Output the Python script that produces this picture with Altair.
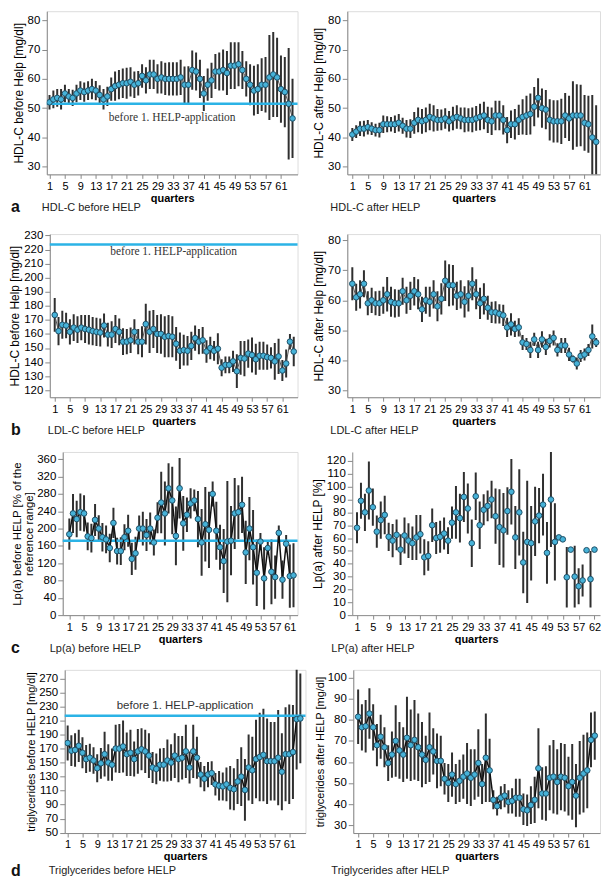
import altair as alt
import pandas as pd

FONT = "Liberation Sans"

# ---------------- data ----------------
hdl_before_mean = [52, 53, 53.5, 53, 55, 54, 53.5, 55, 56, 55.5, 56, 56.5, 56, 54.5, 53, 54,
                   56.5, 57.5, 58, 58.5, 58.5, 59, 58, 58.5,
                   61, 59.5, 61.5, 61.5, 60, 60.5, 60, 60, 60, 60, 60.5,
                   58, 58, 63, 62.5, 60,
                   55, 58, 59.5, 62.5, 62.5, 63, 62, 64.5, 64.5, 65, 63, 60, 58, 56, 56.5, 58,
                   58, 60.5, 61.5, 60.5, 56.5, 55.5, 51.5, 46.5]
hdl_before_sd = [2.5, 3, 3, 3.5, 3, 2.5, 2.8, 3, 3.2, 3.3, 3.2, 3.5, 3.3, 3.3, 3.5, 3.3,
                 4, 5, 5, 5, 5.3, 5, 4.5, 4.2,
                 4, 4.5, 5, 5, 5, 5.5, 5.5, 5.7, 5.7, 5.7, 6,
                 6.2, 6.3, 6.7, 6.5, 6.5,
                 6, 5.5, 6, 6, 6.5, 7, 7.5, 8, 8, 7.5, 6.5, 6, 7, 8.5, 8.5, 9,
                 9.5, 14.5, 14.5, 13.5, 11.5, 12, 19, 13.5]

hdl_after_mean = [41, 42, 43, 43, 43.5, 43, 42.5, 42.5, 44.5, 44.5, 44.5, 44.5, 45, 44, 43, 43,
                  45, 46, 45.5, 46, 47, 46.5, 46, 46, 46.5, 45.5, 46.5, 47, 46.5, 46, 46, 46,
                  46.5, 47, 47.5, 46, 45.5, 47.5, 47.5, 46,
                  42.5, 44.5, 44.5, 46, 47, 47.5, 48, 50.5, 53.5, 50, 49.5, 46, 45.5, 45.5, 45.5, 47.5,
                  46.5, 47.5, 47.5, 47.5, 45, 44.5, 40, 38.5]
hdl_after_sd = [2.2, 2.2, 2.5, 2.7, 2.5, 2.2, 2.2, 2.5, 3, 2.7, 2.5, 3, 3, 2.7, 3, 3.2,
                3.7, 4.2, 4.2, 4.2, 4.5, 4.5, 3.7, 3.5, 3.5, 3.5, 4, 4, 3.7, 4.2, 4, 4.2,
                4.2, 4.5, 4.7, 4.5, 4.7, 5, 5, 5,
                4.5, 4.7, 5.2, 5.2, 6, 6.7, 7, 6.7, 6.7, 6.7, 6.7, 7, 7.2, 7.2, 7.7, 7.7,
                7.7, 11.7, 10.7, 10.5, 9.5, 9.7, 14.5, 12.5]

ldl_before_mean = [173.5, 162, 166.5, 166, 161.5, 164.5, 163, 164.5, 163.5, 163, 162, 161.5, 161,
                   166, 159.5, 159.5, 163.5, 161.5, 154.5, 154.5, 155.5, 161.5, 154.5, 154.5,
                   167, 161.5, 163.5, 160, 160, 158, 158.5, 158,
                   153, 148, 148.5, 148, 151.5, 157, 154.5, 155.5,
                   147.5, 150, 148, 149.5, 136, 138, 138, 140.5, 133.5, 143, 142.5, 146, 145, 142,
                   144.5, 144.5, 143.5, 143, 140.5, 144, 134, 139, 154.5, 147.5]
ldl_before_sd = [12, 10, 10, 9, 9, 9.5, 9.5, 9, 10, 10.5,
                 10, 10, 10, 8.5, 8.5, 9.5, 10, 9.5, 9.5, 9,
                 9, 9, 9, 11, 14.5, 15, 13.5, 13.5, 14, 14.5,
                 15, 14.5, 12, 13, 11, 10.5, 10, 9, 9, 9.5,
                 8, 8, 7, 11, 6, 6, 6, 7.5, 12, 12,
                 12.5, 10, 12.5, 11, 10, 10, 9, 7.5, 13, 12.5,
                 7.5, 10, 5.5, 10.5]

ldl_after_mean = [65.5, 61, 62, 65.5, 59, 60, 59, 59, 60, 62, 59.5, 59, 59, 63, 60, 61.5, 63, 62,
                  57, 60, 59.5, 62, 58, 60.5,
                  66.5, 65, 65, 61.5, 62, 59.5, 61.5, 65.5, 62, 59, 60.5, 57.5, 56, 56, 55.5, 55,
                  51, 52, 50.5, 51, 46, 45.5, 43.5, 47, 43.5, 47, 44.5, 46.5, 47.5, 43.5, 45, 45,
                  42, 40.5, 39, 41.5, 42, 43.5, 48, 46]
ldl_after_sd = [5.5, 4.5, 4.7, 4.5, 4, 4.2, 4, 4.2, 4.5, 5.7,
                5, 4.7, 4.5, 4.5, 4.5, 4.7, 4.7, 5, 4.2, 4.5,
                5, 4.7, 5, 5.2, 6.7, 7, 6.7, 4.7, 4.7, 5.2,
                5.2, 5.5, 5, 5.2, 5.2, 4, 3.5, 3.7, 3.2, 3.5,
                3.2, 3.7, 2.7, 3, 2.5, 2, 2.7, 2.2, 2.7, 2.7,
                2.7, 2.2, 2.5, 2.2, 2.5, 2.5, 2.2, 1.2, 2, 2,
                2, 2, 4, 1.5]

lpa_before_mean = [187, 235, 222, 238, 235, 182, 178, 220, 200, 180, 175, 155, 213, 148, 148, 180,
                   195, 130, 143, 200, 200, 185, 200, 168,
                   225, 260, 235, 293, 265, 183, 293, 212, 232, 258,
                   265, 222, 168, 210, 197, 280, 195, 157, 125, 170,
                   172, 235, 238, 255, 145, 200, 157, 98, 170, 85,
                   155, 100, 88, 190, 82, 165, 90, 92]
lpa_before_sd = [36, 45, 42, 43, 42, 32, 33, 37, 31, 33,
                 32, 33, 35, 31, 32, 30, 37, 37, 38, 30,
                 39, 37, 37, 30, 36, 71, 74, 58, 78, 68,
                 70, 63, 40, 35, 25, 65, 77, 86, 88, 29,
                 67, 52, 74, 140, 80, 82, 62, 65, 73, 73,
                 86, 77, 20, 72, 15, 75, 50, 17, 44, 20,
                 73, 74]

lpa_after_mean = [68, 89, 80, 97, 84, 65, 74, 78, 61, 58, 62.5, 51, 62, 58, 56, 60.5, 63, 45, 46, 70,
                  60, 61, 63.5, 58,
                  72, 80, 75.5, 92, 83, 56, 92.5, 70, 82, 85,
                  90, 77, 68.5, 66, 81, 96, 60.5, 80, 41, 57,
                  56, 73, 77.5, 86, 48.5, 90, 57, 60.5, 59, 29.5,
                  51, 30, 22.5, 27, 50.5, 28, 51]
lpa_after_sd = [12, 14, 14.5, 22.5, 14.5, 12.5, 14.5, 15, 11, 13,
                12, 12, 14, 13.5, 13, 17.5, 15, 14, 11.5, 13,
                12.5, 12.5, 12.5, 10.5, 12.5, 20.5, 19, 19.5, 19.5, 18.5,
                18.5, 18.5, 12, 12, 14.5, 21.5, 29.5, 29, 18.5, 25.5,
                24.5, 33.5, 24, 47.5, 29, 27, 21.5, 24, 24, 37,
                30, 0, 0, 23.5, 0, 24, 14, 12.5, 0, 22,
                0]

tg_before_mean = [178, 167, 168, 174, 164, 155, 157, 153, 142, 149, 162, 150, 147, 170, 170, 173,
                  162, 164, 155, 166, 169, 166, 160, 143,
                  141, 147, 147, 153, 150, 160, 155, 157, 166, 143, 166, 157, 133, 127, 133, 135,
                  119, 117, 116, 119, 114, 112, 123, 130, 111, 143, 139, 155, 158, 161, 152, 152,
                  152, 157, 137, 162, 162, 165, 212, 213]
tg_before_sd = [25, 22, 24, 23, 22, 20, 20, 19, 20, 22,
                32, 26, 23, 34, 35, 37, 31, 33, 25, 32,
                30, 31, 32, 22, 22, 23, 24, 30, 26, 32,
                33, 31, 38, 23, 38, 30, 18, 18, 18, 17,
                16, 21, 20, 24, 31, 30, 32, 42, 44, 47,
                48, 56, 63, 66, 61, 56, 56, 68, 55, 67,
                71, 67, 72, 64]

tg_after_mean = [81.5, 76.5, 77, 83, 76.5, 68, 72, 67, 59.5, 63.5, 70, 65.5, 63.5, 71.5, 68, 70.5,
                 67, 63.5, 61, 67, 65, 60.5, 60.5, 52,
                 50, 54, 49.5, 51, 53, 54.5, 52.5, 54, 59.5, 49.5, 62, 56, 42, 39, 43, 44,
                 41, 41.5, 43, 43, 37.5, 37, 39.5, 42, 57, 45, 45, 52.5, 53, 50.5, 53, 52.5,
                 48.5, 50.5, 44, 52.5, 54.5, 56, 70.5, 72.5]
tg_after_sd = [13, 11, 12.5, 12, 11, 10, 10.5, 9.5, 8.5, 11,
               17, 13.5, 13, 19.5, 17, 19, 16, 15.5, 11.5, 16.5,
               11, 13, 12, 7.5, 9, 10.5, 9.5, 10, 10.5, 14.5,
               13.5, 12, 16, 9.5, 21, 15, 4.5, 4.5, 5.5, 5.5,
               5.5, 6, 9, 9, 7.5, 7.5, 9, 11, 19, 12.5,
               13, 15.5, 17.5, 15.5, 16, 16, 14, 18, 15, 17.5,
               18.5, 18, 13, 11.5]

x_ticks = list(range(1, 62, 4))
x_ticks_lpa_after = list(range(1, 58, 4)) + [61]
ref_label = "before 1. HELP-application"
panel_letters = ["a", "b", "c", "d"]

H = 164


def make_panel(mean, sd, ytitle, ydom, yticks, xdom, width, caption, cap_y=34,
               line=True, line_color="#555555", line_width=1.0,
               ref=None, ref_text=None, ref_font=FONT, ref_dy=0,
               box=True, xvals=x_ticks, xlabel_expr=None, cap_dx=-5, ytitle_size=12):
    q = list(range(1, len(mean) + 1))
    df = pd.DataFrame({"q": q, "mean": mean,
                       "lo": [m - s for m, s in zip(mean, sd)],
                       "hi": [m + s for m, s in zip(mean, sd)]})
    xscale = alt.Scale(domain=xdom, nice=False, zero=False)
    yscale = alt.Scale(domain=ydom, nice=False, zero=False)
    xaxis_kw = dict(values=xvals, title="quarters", labelFontSize=11, labelPadding=2, tickSize=4,
                    titleFontSize=11, titleFontWeight="bold", titlePadding=1,
                    labelFlush=False, labelOverlap=False, grid=False)
    if xlabel_expr:
        xaxis_kw["labelExpr"] = xlabel_expr
    xaxis = alt.Axis(**xaxis_kw)
    yaxis = alt.Axis(values=yticks, title=ytitle, labelFontSize=11.5, tickSize=5, labelPadding=2,
                     titleFontSize=ytitle_size, titleFontWeight="normal", titlePadding=2,
                     titleLineHeight=12, grid=False)

    def X(f):
        return alt.X(f, type="quantitative", scale=xscale, axis=xaxis)

    def Y(f):
        return alt.Y(f, type="quantitative", scale=yscale, axis=yaxis)

    base = alt.Chart(df)
    layers = [base.mark_rule(color="#2f2f2f", strokeWidth=2, clip=True)
              .encode(x=X("q"), y=Y("lo"), y2="hi")]
    if ref is not None:
        rdf = pd.DataFrame({"v": [ref], "t": [ref_text or ""]})
        layers.append(alt.Chart(rdf).mark_rule(color="#2bb3e6", strokeWidth=2.5).encode(y=Y("v")))
    if line:
        layers.append(base.mark_line(color=line_color, strokeWidth=line_width, clip=True)
                      .encode(x=X("q"), y=Y("mean")))
    layers.append(base.mark_circle(size=32, color="#46b2d8", stroke="#1f4f66", strokeWidth=1,
                                   opacity=1, clip=True)
                  .encode(x=X("q"), y=Y("mean")))
    if ref is not None and ref_text:
        layers.append(alt.Chart(rdf).mark_text(font=ref_font, fontSize=11.5, dy=ref_dy, color="#333333")
                      .encode(x=alt.value(width / 2), y=Y("v"), text="t:N"))
    cdf = pd.DataFrame({"t": [caption]})
    layers.append(alt.Chart(cdf).mark_text(font=FONT, fontSize=11, align="left", baseline="middle",
                                           color="#222222")
                  .encode(x=alt.value(cap_dx), y=alt.value(H + cap_y), text="t:N"))
    props = dict(width=width, height=H)
    if not box:
        props["view"] = alt.ViewBackground(stroke="transparent")
    return alt.layer(*layers).properties(**props)


def spacer(text, width, text_y=33):
    sdf = pd.DataFrame({"t": [text]})
    return alt.Chart(sdf).mark_text(font=FONT, fontSize=16, fontWeight="bold", align="left",
                                    baseline="middle", color="#111111").encode(
        x=alt.value(0), y=alt.value(H + text_y), text="t:N"
    ).properties(width=width, height=H, view=alt.ViewBackground(stroke="transparent"))


def row(letter, off, left, gap, right, letter_y=33):
    return alt.hconcat(spacer(letter, off, letter_y), left, spacer("", gap), right,
                       spacing=0, bounds="flush")


a_left = make_panel(hdl_before_mean, hdl_before_sd, "HDL-C before Help [mg/dl]", [27.4, 83.1],
                    list(range(30, 81, 10)), [0.3, 65.3], 252, "HDL-C before HELP",
                    ref=51.5, ref_text=ref_label, ref_font="Liberation Serif", ref_dy=14, cap_dx=-5)
a_right = make_panel(hdl_after_mean, hdl_after_sd, "HDL-C after Help [mg/dl]", [27.4, 83.1],
                     list(range(30, 81, 10)), [-0.3, 65], 254, "HDL-C after HELP", cap_dx=-17)

b_left = make_panel(ldl_before_mean, ldl_before_sd, "HDL-C before Help [mg/dl]", [115, 231],
                    list(range(120, 231, 10)), [-0.3, 65], 249, "LDL-C before HELP",
                    ref=223.5, ref_text=ref_label, ref_font="Liberation Serif", ref_dy=7, cap_dx=-2)
b_right = make_panel(ldl_after_mean, ldl_after_sd, "HDL-C after Help [mg/dl]", [27.8, 82],
                     list(range(30, 81, 10)), [-0.3, 65], 254, "LDL-C after HELP", cap_dx=-17)

c_left = make_panel(lpa_before_mean, lpa_before_sd, ["Lp(a) before HELP [% of the", "reference range]"],
                    [0, 377], list(range(0, 361, 40)), [-0.8, 63.1], 236, "Lp(a) before HELP",
                    line_color="#111111", line_width=1.5, ref=172, cap_dx=-13, ytitle_size=11.5)
c_right = make_panel(lpa_after_mean, lpa_after_sd, "Lp(a) after HELP [%]", [0, 127],
                     list(range(0, 121, 10)), [-0.2, 62.4], 249, "LP(a) after HELP", line=False,
                     box=False, xvals=x_ticks_lpa_after,
                     xlabel_expr="datum.value == 61 ? '62' : datum.label", cap_dx=-21)

d_left = make_panel(tg_before_mean, tg_before_sd, "triglycerides before HELP [mg/dl]", [49.5, 282.3],
                    list(range(50, 271, 20)), [0.2, 65.4], 242, "Triglycerides before HELP",
                    cap_y=38, line_color="#111111", line_width=1.5, ref=217,
                    ref_text=ref_label, ref_font=FONT, ref_dy=-10, cap_dx=-16, ytitle_size=11)
d_right = make_panel(tg_after_mean, tg_after_sd, "triglycerides after HELP [mg/dl]", [26.2, 103.8],
                     list(range(30, 101, 10)), [-0.3, 65.4], 248, "Triglycerides after HELP",
                     cap_y=38, line_color="#111111", line_width=1.5, cap_dx=-22, ytitle_size=11)

chart = alt.vconcat(
    row(panel_letters[0], 36, a_left, 50, a_right),
    row(panel_letters[1], 39, b_left, 50, b_right),
    row(panel_letters[2], 52, c_left, 55, c_right),
    row(panel_letters[3], 54, d_left, 48, d_right, letter_y=38),
    spacing=12,
).configure_view(stroke="#8a8a8a", strokeWidth=1).configure_axis(
    labelFont=FONT, titleFont=FONT, labelColor="#333333", titleColor="#222222",
    domainColor="#8a8a8a", tickColor="#8a8a8a"
).configure(background="white", padding=0)

chart.save("out.html", embed_options={"renderer": "svg", "actions": False})
